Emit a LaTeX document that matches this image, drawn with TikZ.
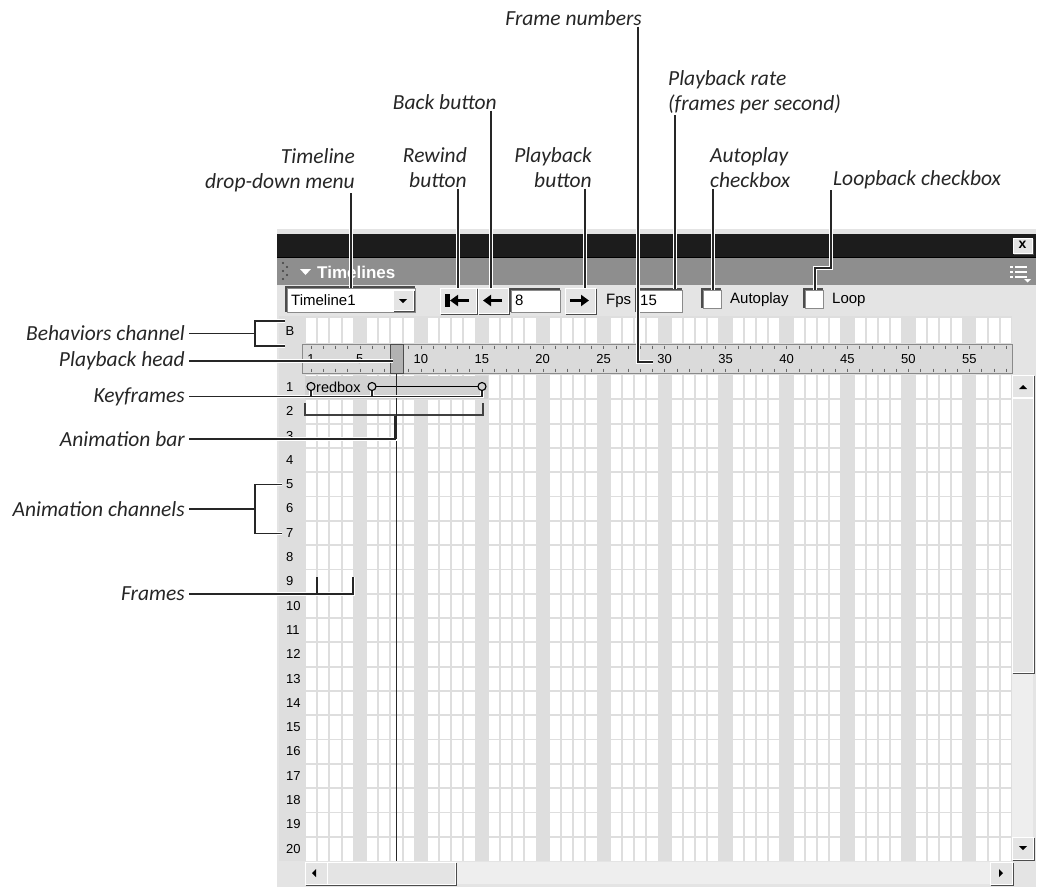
\documentclass[tikz,border=0pt]{standalone}
\usepackage{fontspec}
\setmainfont{Liberation Sans}
\newfontfamily\calloutfont{Carlito}
\usetikzlibrary{arrows.meta,calc}
\definecolor{TLDark}{HTML}{1C1C1C}
\definecolor{TLHeader}{HTML}{8E8E8E}
\definecolor{TLPanel}{HTML}{E4E4E4}
\definecolor{TLGrid}{HTML}{DEDEDE}
\definecolor{TLBar}{HTML}{D2D2D2}
\definecolor{TLRuler}{HTML}{DADADA}
\definecolor{TLTrack}{HTML}{EEEEEE}
\definecolor{TLEdge}{HTML}{8A8A8A}
\definecolor{TLInk}{HTML}{262626}

\begin{document}
\begin{tikzpicture}[x=1pt,y=-1pt,
    callout/.style={
      font={\calloutfont\itshape\fontsize{21.5}{25}\selectfont},
      text=TLInk,
      inner xsep=4pt,
      inner ysep=1pt
    },
    leader/.style={
      draw=TLInk,
      line width=1.1pt,
      preaction={draw=white, line width=3.4pt}
    },
    uitext/.style={
      font=\fontsize{15}{17}\selectfont,
      inner sep=0pt
    },
    smalltext/.style={
      font=\fontsize{13}{15}\selectfont,
      inner sep=0pt
    },
    raised/.style={
      fill=TLPanel,
      draw=white,
      line width=0.8pt,
      preaction={draw=black!70, line width=1.2pt,
                 transform canvas={shift={(1.2pt,-1.2pt)}}}
    },
    sunken/.style={
      fill=white,
      draw=TLEdge,
      line width=0.8pt,
      preaction={draw=black!70, line width=1.2pt,
                 transform canvas={shift={(-1pt,1pt)}}}
    },
    gridline/.style={draw=TLGrid, line width=1.8pt}
  ]

  \useasboundingbox (0,0) rectangle (1037,887);

  % Window, title bar and header
  \fill[TLPanel] (277,229) rectangle (1036,887);
  \fill[TLDark] (277,234) rectangle (1036,257);
  \draw[black, line width=1.5pt] (277,257.5) -- (1036,257.5);
  \fill[TLHeader] (277,258.3) rectangle (1036,285);
  \draw[raised] (1013,238) rectangle (1032,253);
  \node[font=\bfseries\fontsize{14}{14}\selectfont, inner sep=0pt] (closex) at (1022.5,245) {x};
  \foreach \x/\y in {283/263, 287/267, 283/271, 287/275, 283/279}
    \fill[black!75] (\x,\y) circle[radius=1.1pt];
  \fill[white] (300,269) -- (311,269) -- (305.5,275) -- cycle;
  \node[anchor=west, text=white, font=\bfseries\fontsize{17}{17}\selectfont, inner sep=0pt]
    (title) at (317,272) {Timelines};
  \foreach \y in {266,271,276} {
    \fill[white] (1010,\y) rectangle (1013,{\y+2});
    \fill[white] (1015,\y) rectangle (1027,{\y+1.5});
  }
  \fill[white] (1024,279) -- (1031,279) -- (1027.5,282.5) -- cycle;

  % Toolbar
  \draw[sunken] (287,288) rectangle (415,312);
  \node[uitext, anchor=west] (tlname) at (291,300) {Timeline1};
  \draw[raised] (393,290) rectangle (413,310);
  \fill (399,299) -- (407,299) -- (403,303) -- cycle;
  \draw[raised] (440,288) rectangle (476,313);
  \fill (445,294) rectangle (449.5,307);
  \draw[line width=3.6pt, -{Triangle[length=8pt,width=11pt]}] (469,300.5) -- (450,300.5);
  \draw[raised] (478,288) rectangle (508,313);
  \draw[line width=3.6pt, -{Triangle[length=8pt,width=11pt]}] (502,300.5) -- (483,300.5);
  \draw[sunken] (511,290) rectangle (560,312);
  \node[uitext, anchor=west] (curframe) at (515,300.5) {8};
  \draw[raised] (565,288) rectangle (595,313);
  \draw[line width=3.6pt, -{Triangle[length=8pt,width=11pt]}] (570,300.5) -- (589,300.5);
  \node[uitext, anchor=west] (fpslabel) at (606,300.5) {Fps};
  \draw[sunken] (637,290) rectangle (682,312);
  \node[uitext, anchor=west] (fpsvalue) at (640,300.5) {15};
  \draw[sunken] (703,290) rectangle (721,308);
  \node[uitext, anchor=west] (autolabel) at (730,300) {Autoplay};
  \draw[sunken] (805,290) rectangle (823,308);
  \node[uitext, anchor=west] (looplabel) at (832,300) {Loop};

  % Channel grid: every fifth frame column stays grey
  \fill[TLGrid] (279,316) rectangle (1012,861);
  \foreach \k in {1,...,58} {
    \pgfmathtruncatemacro\m{mod(\k,5)}
    \ifnum\m>0
      \fill[white] ({305+(\k-1)*12.19+1},318) rectangle ({305+\k*12.19-1},342.5);
      \fill[white] ({305+(\k-1)*12.19+1},375) rectangle ({305+\k*12.19-1},861);
    \fi
  }
  \foreach \r in {1,...,19}
    \draw[gridline] (305,{375+\r*24.3}) -- (1012,{375+\r*24.3});
  \node[smalltext] (bchan) at (290,331) {B};
  \foreach \r in {1,...,20}
    \node[smalltext, anchor=west] (row\r) at (286,{387+(\r-1)*24.3}) {\r};

  % Ruler with frame numbers
  \draw[fill=TLRuler, draw=TLEdge] (302,344) rectangle (1012,373);
  \foreach \f in {1,...,58}
    \draw[black!60] ({305+(\f-0.5)*12.19},345.5) -- ++(0,3)
                    ({305+(\f-0.5)*12.19},368.5) -- ++(0,3.5);
  \foreach \f in {1,5,10,...,55}
    \node[smalltext] (fr\f) at ({305+(\f-0.5)*12.19},359.5) {\f};

  % Sprite redbox in channel 1
  \fill[TLBar] (305,376) rectangle (488,398.5);
  \node[uitext, anchor=west, font=\fontsize{14.5}{16}\selectfont] (sprite) at (316,387) {redbox};
  \draw[line width=1.3pt] (376,386.5) -- (478,386.5);
  \foreach \x in {311,372,482}
    \draw[line width=1.1pt, fill=TLBar] (\x,386.5) circle[radius=4pt];
  \draw[black!75, line width=1.2pt] (305,403) |- (483,415) -- (483,403);

  % Playback head
  \draw[black!85] (396.5,373) -- (396.5,861);
  \draw[fill=black!30, draw=black!70] (390,344) rectangle (403,373);

  % Scroll bars
  \fill[TLTrack] (1012,375) rectangle (1033,859);
  \draw[raised] (1012.5,375.5) rectangle (1033,397);
  \fill (1019,389) -- (1027,389) -- (1023,385) -- cycle;
  \draw[raised] (1012.5,398) rectangle (1033,672);
  \draw[raised] (1012.5,837) rectangle (1033,859);
  \fill (1019,846) -- (1027,846) -- (1023,850) -- cycle;
  \fill[TLTrack] (305,861.5) rectangle (1012,884);
  \draw[raised] (305.5,862) rectangle (327,884);
  \fill (312,873) -- (316,869) -- (316,877) -- cycle;
  \draw[raised] (327.5,862) rectangle (455,884);
  \draw[raised] (990.5,862) rectangle (1012,884);
  \fill (1003,873) -- (999,869) -- (999,877) -- cycle;

  % Callouts above the window
  \node[callout, anchor=east] (fnum) at (646,18) {Frame numbers};
  \node[callout, anchor=east] (backbtn) at (501,102) {Back button};
  \node[callout, anchor=south west, align=left] (rate) at (664,115)
    {Playback rate\\(frames per second)};
  \node[callout, anchor=south east, align=right] (tlmenu) at (359,193)
    {Timeline\\drop-down menu};
  \node[callout, anchor=south east, align=right] (rewind) at (471,188.5)
    {Rewind\\button};
  \node[callout, anchor=south east, align=right] (playbtn) at (596,188.5)
    {Playback\\button};
  \node[callout, anchor=south west, align=left] (autoplay) at (706,188.5)
    {Autoplay\\checkbox};
  \node[callout, anchor=west] (loopback) at (829,180) {Loopback checkbox};

  \coordinate (menuTip) at (351,288);
  \coordinate (rewindTip) at (458,288);
  \coordinate (backTip) at (491,288);
  \coordinate (playTip) at (585,288);
  \coordinate (fpsTip) at (675,289);
  \coordinate (autoTip) at (713,290);
  \coordinate (fnumBend) at (638,362);
  \coordinate (fnumTip) at (653,362);
  \coordinate (loopBendA) at (831,268);
  \coordinate (loopBendB) at (815,268);
  \coordinate (loopTip) at (815,290);

  \foreach \lbl/\tip in {tlmenu/menuTip, rewind/rewindTip, backbtn/backTip,
                         playbtn/playTip, rate/fpsTip, autoplay/autoTip}
    \draw[leader] (\lbl.south -| \tip) -- (\tip);
  \draw[leader] (fnum.south -| fnumBend) -- (fnumBend) -- (fnumTip);
  \draw[leader] (loopback.south -| loopBendA) -- (loopBendA) -- (loopBendB) -- (loopTip);

  % Callouts left of the window
  \node[callout, anchor=east] (behav) at (189,333.5) {Behaviors channel};
  \node[callout, anchor=east] (phead) at (189,361) {Playback head};
  \node[callout, anchor=east] (keys) at (189,396.5) {Keyframes};
  \node[callout, anchor=east] (abar) at (189,439) {Animation bar};
  \node[callout, anchor=east] (achan) at (189,509) {Animation channels};
  \node[callout, anchor=east] (frames) at (189,594) {Frames};

  \coordinate (bchTop) at (285,321);
  \coordinate (bchMid) at (255,333.5);
  \coordinate (bchBot) at (285,346);
  \coordinate (headTip) at (393,361);
  \coordinate (key1) at (311,390.5);
  \coordinate (key2) at (372,390.5);
  \coordinate (key3) at (482,390.5);
  \coordinate (abarTip) at (395.5,416);
  \coordinate (achTop) at (282,484.5);
  \coordinate (achMid) at (255,509);
  \coordinate (achBot) at (282,533.5);
  \coordinate (frameA) at (317,577);
  \coordinate (frameB) at (353,577);

  \draw[leader] (behav.east) -- (bchMid) (bchTop) -| (bchMid) |- (bchBot);
  \draw[leader] (phead.east) -- (headTip);
  \draw[leader] (keys.east) -| (key3) (key1) -- (key1 |- keys.east)
                (key2) -- (key2 |- keys.east);
  \draw[leader] (abar.east) -| (abarTip);
  \draw[TLInk, line width=2.6pt] (abarTip) -- (abarTip |- abar.east);
  \draw[leader] (achan.east) -- (achMid) (achTop) -| (achMid) |- (achBot);
  \draw[leader] (frames.east) -| (frameB) (frameA) -- (frameA |- frames.east);

\end{tikzpicture}
\end{document}
